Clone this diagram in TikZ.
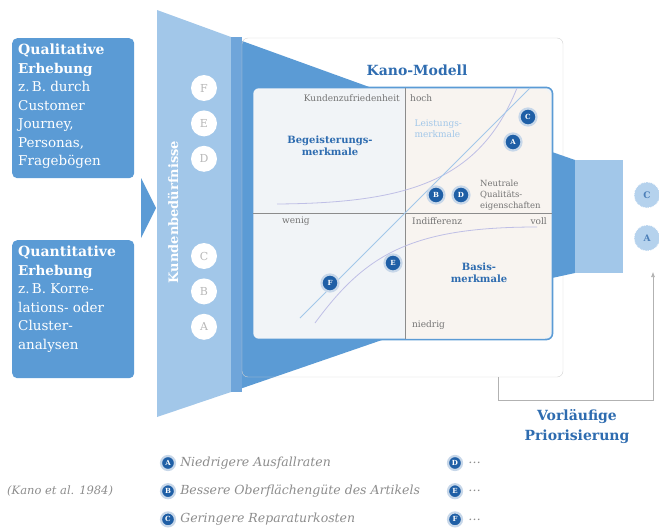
\documentclass[tikz,border=0pt]{standalone}
\usepackage{fontspec}
\setmainfont{DejaVu Serif}
\usetikzlibrary{arrows.meta,positioning}

\definecolor{kblue}{HTML}{5B9BD5}
\definecolor{klight}{HTML}{A2C7E9}
\definecolor{kmid}{HTML}{6FA5DA}
\definecolor{kdark}{HTML}{1F5FA6}
\definecolor{ktitle}{HTML}{2E6CB0}
\definecolor{kgrey}{HTML}{8A8A8A}
\definecolor{kbg}{HTML}{F1F4F7}
\definecolor{kwarm}{HTML}{F8F4F0}

\begin{document}
\begin{tikzpicture}[
    x=1pt, y=-1pt,
    srcbox/.style={fill=kblue, rounded corners=5pt, minimum width=122pt, anchor=north west},
    srctext/.style={anchor=north west, text=white, align=left, inner sep=6pt,
        font=\fontsize{13.5}{18.5}\selectfont},
    need/.style={circle, fill=white, text=black!28, minimum size=26pt, inner sep=0pt,
        font=\fontsize{11}{11}\selectfont},
    kmark/.style={circle, fill=kdark, draw=kdark!25, line width=2.2pt, text=white,
        minimum size=17pt, inner sep=0pt, font=\bfseries\fontsize{7}{7}\selectfont},
    prio/.style={circle, fill=klight!80, draw=white, densely dotted, line width=0.8pt, text=kdark!80,
        minimum size=26pt, inner sep=0pt, font=\bfseries\fontsize{9}{9}\selectfont},
    axlabel/.style={text=black!55, inner sep=1pt, font=\fontsize{9}{10}\selectfont},
    group/.style={text=ktitle, align=center, font=\bfseries\fontsize{10}{12}\selectfont},
    lgtext/.style={text=black!45, inner sep=1pt, anchor=west, font=\itshape\fontsize{12.5}{14}\selectfont},
    curve/.style={draw=black!40!blue!25, line width=0.8pt},
    arr/.style={-{Latex[length=5pt,width=4pt]}, draw=black!30, line width=0.6pt}
]
\useasboundingbox (0,0) rectangle (659,530);

% survey boxes on the left
\node[srcbox, minimum height=140pt] (qual) at (12,38) {};
\node[srctext] at (qual.north west) {\textbf{\fontsize{14}{18.5}\selectfont Qualitative}\\\textbf{Erhebung}\\z.\,B. durch\\Customer\\Journey,\\Personas,\\Fragebögen};
\node[srcbox, minimum height=138pt] (quant) at (12,240) {};
\node[srctext] at (quant.north west) {\textbf{\fontsize{14}{18.5}\selectfont Quantitative}\\\textbf{Erhebung}\\z.\,B. Korre-\\lations- oder\\Cluster-\\analysen};
\fill[kblue] (141,178) -- (156,208) -- (141,238) -- cycle;

% funnel
\fill[klight] (157,10) -- (231,37) -- (231,392) -- (157,417) -- cycle;
\fill[kblue] (231,37) -- (372,88) -- (382,340) -- (231,392) -- cycle;
\fill[kmid] (231,37) rectangle (242,392);
\node[rotate=90, text=white, font=\bfseries\fontsize{13}{13}\selectfont] (needs) at (173,212) {Kundenbedürfnisse};

\node[need] (nF) at (204,88) {F};
\node[need, below=9pt of nF] (nE) {E};
\node[need, below=9pt of nE] (nD) {D};
\node[need] (nC) at (204,256) {C};
\node[need, below=9pt of nC] (nB) {B};
\node[need, below=9pt of nB] (nA) {A};

% frame round the model
\draw[black!18, rounded corners=6pt] (242,38) rectangle (563,377);
\coordinate (fout) at (498,377);

% bridge to the priorities
\fill[kblue] (552,152) -- (575,160) -- (575,273) -- (552,278) -- cycle;
\fill[klight] (575,160) rectangle (623,273);

% Kano model
\node[text=ktitle, font=\bfseries\fontsize{14}{14}\selectfont] (title) at (417,70) {Kano-Modell};
\node[draw=kblue, line width=1.6pt, fill=kbg, rounded corners=6pt,
    minimum width=300pt, minimum height=252pt] (kano) at (402.5,213.5) {};
\fill[kwarm] (406,89) -- (545,89) -- (551,95) -- (551,332) -- (545,338.5) -- (406,338.5) -- cycle;
\coordinate (ytop) at (405,88);
\coordinate (ybot) at (405,339);
\coordinate (xlft) at (253,213);
\coordinate (xrgt) at (552,213);
\draw[black!45, line width=0.6pt] (ytop) -- (ybot);
\draw[black!45, line width=0.6pt] (xlft) -- (xrgt);

\node[axlabel, anchor=east] (sat) at (401,98) {Kundenzufriedenheit};
\node[axlabel, anchor=west] (high) at (409,98) {hoch};
\node[axlabel, anchor=west] (low) at (281,221) {wenig};
\node[axlabel, anchor=west] (indiff) at (411,221) {Indifferenz};
\node[axlabel, anchor=east] (full) at (548,221) {voll};
\node[axlabel, anchor=west] (bottom) at (411,325) {niedrig};

% curves
\coordinate (bgA) at (277,204);
\coordinate (bgB) at (517,88);
\coordinate (lsA) at (300,318);
\coordinate (lsB) at (530,88);
\coordinate (bsA) at (315,323);
\coordinate (bsB) at (537,227);
\draw[curve] (bgA) .. controls (410,203) and (480,180) .. (bgB);
\draw[draw=klight, line width=0.8pt] (lsA) -- (lsB);
\draw[curve] (bsA) .. controls (365,255) and (410,227) .. (bsB);

\node[group] (excite) at (330,146) {Begeisterungs-\\merkmale};
\node[group, text=klight, font=\fontsize{9}{11}\selectfont, align=left, anchor=west] (perform) at (411,129) {Leistungs-\\merkmale};
\node[group] (basic) at (479,273) {Basis-\\merkmale};
\node[axlabel, align=left, anchor=west, font=\fontsize{8.5}{11}\selectfont] (neutral) at (479,195) {Neutrale\\Qualitäts-\\eigenschaften};

\node[kmark] (mC) at (528,117) {C};
\node[kmark] (mA) at (513,142) {A};
\node[kmark] (mB) at (436,195) {B};
\node[kmark] (mD) at (461,195) {D};
\node[kmark] (mE) at (393,263) {E};
\node[kmark] (mF) at (330,283) {F};

% preliminary ranking
\node[prio] (pC) at (647,195) {C};
\node[prio] (pA) at (647,238) {A};
\coordinate (fturn) at (498,400);
\coordinate (fup) at (653,400);
\coordinate (ptip) at (653,272);
\draw[arr] (fout) -- (fturn) -- (fup) -- (ptip);
\node[group, font=\bfseries\fontsize{14}{20}\selectfont] (ranking) at (577,427) {Vorläufige\\Priorisierung};

% legend
\node[lgtext, font=\itshape\fontsize{11.5}{14}\selectfont] (src) at (6,491) {(Kano et al. 1984)};
\node[kmark, minimum size=14pt] (lA) at (168,463) {A};
\node[kmark, minimum size=14pt, below=12pt of lA] (lB) {B};
\node[kmark, minimum size=14pt, below=12pt of lB] (lC) {C};
\node[lgtext, right=3pt of lA] (tA) {Niedrigere Ausfallraten};
\node[lgtext, right=3pt of lB] (tB) {Bessere Oberflächengüte des Artikels};
\node[lgtext, right=3pt of lC] (tC) {Geringere Reparaturkosten};
\node[kmark, minimum size=14pt] (lD) at (455,463) {D};
\node[kmark, minimum size=14pt, below=12pt of lD] (lE) {E};
\node[kmark, minimum size=14pt, below=12pt of lE] (lF) {F};
\node[lgtext, right=4pt of lD] (tD) {\dots};
\node[lgtext, right=4pt of lE] (tE) {\dots};
\node[lgtext, right=4pt of lF] (tF) {\dots};
\end{tikzpicture}
\end{document}
